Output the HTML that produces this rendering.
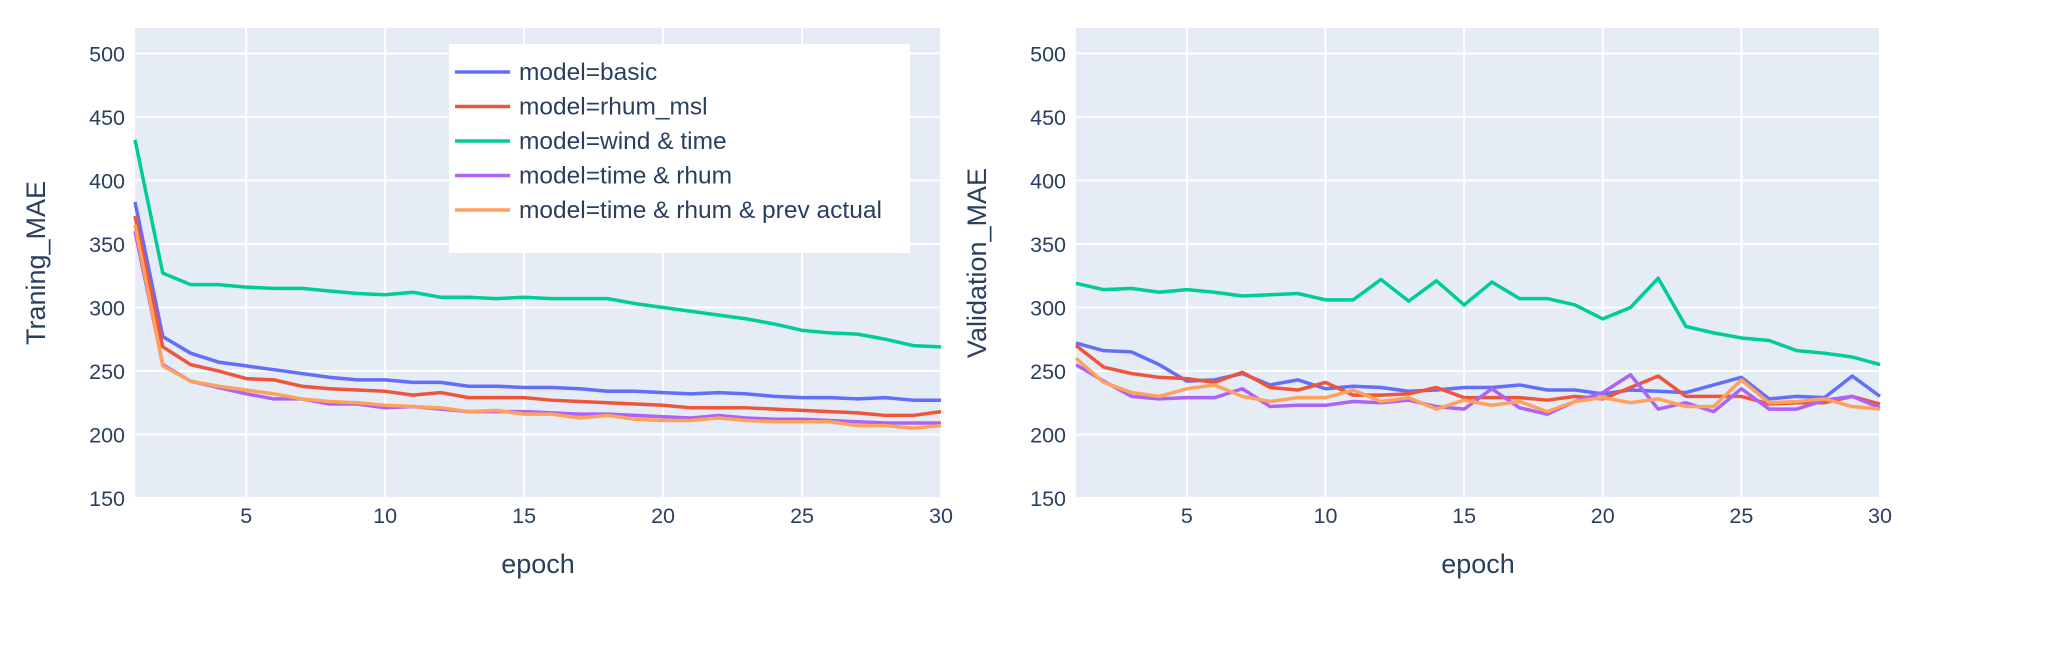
<!DOCTYPE html>
<html><head><meta charset="utf-8">
<style>
body{margin:0;background:#fff;width:2058px;height:654px;overflow:hidden}
svg text{font-family:"Liberation Sans",sans-serif;fill:#2a3f5f}
</style></head>
<body>
<svg id="chart" width="2058" height="654" viewBox="0 0 2058 654" xmlns="http://www.w3.org/2000/svg"></svg>
<script>
const epochs = Array.from({length:30},(_,i)=>i+1);
const seriesNames = ["model=basic","model=rhum_msl","model=wind & time","model=time & rhum","model=time & rhum & prev actual"];
const seriesKeys = ["basic","rhum-msl","wind-time","time-rhum","time-rhum-prev"];
const colors = ["#636efa","#EF553B","#00cc96","#ab63fa","#FFA15A"];
const yTicks = [150,200,250,300,350,400,450,500];
const xTicks = [5,10,15,20,25,30];
const trainBasic = [383,277,264,257,254,251,248,245,243,243,241,241,238,238,237,237,236,234,234,233,232,233,232,230,229,229,228,229,227,227];
const trainRhum = [372,269,255,250,244,243,238,236,235,234,231,233,229,229,229,227,226,225,224,223,221,221,221,220,219,218,217,215,215,218];
const trainWind = [432,327,318,318,316,315,315,313,311,310,312,308,308,307,308,307,307,307,303,300,297,294,291,287,282,280,279,275,270,269];
const trainTimeRhum = [360,255,242,237,232,228,228,224,224,221,222,220,218,218,218,217,216,216,215,214,213,215,213,212,212,211,210,209,209,209];
const trainPrev = [365,254,242,238,235,232,228,226,225,223,222,221,218,219,216,216,213,215,212,211,211,213,211,210,210,210,207,207,205,207];
const valBasic = [272,266,265,255,242,243,248,239,243,236,238,237,234,235,237,237,239,235,235,232,235,234,233,239,245,228,230,229,246,230];
const valRhum = [270,253,248,245,244,241,249,237,235,241,231,231,232,237,229,229,229,227,230,228,237,246,230,230,230,224,225,225,230,224];
const valWind = [319,314,315,312,314,312,309,310,311,306,306,322,305,321,302,320,307,307,302,291,300,323,285,280,276,274,266,264,261,255];
const valTimeRhum = [255,242,230,228,229,229,236,222,223,223,226,225,227,222,220,236,221,216,226,233,247,220,225,218,236,220,220,227,230,221];
const valPrev = [260,241,233,230,236,239,230,226,229,229,235,226,229,220,227,223,226,218,226,229,225,228,222,222,243,225,226,228,222,220];

const NS="http://www.w3.org/2000/svg";
const svg=document.getElementById('chart');
function el(tag,attrs,parent){const e=document.createElementNS(NS,tag);for(const k in attrs)e.setAttribute(k,attrs[k]);(parent||svg).appendChild(e);return e;}

function drawPanel(key,x0,x1,title,data){
  const yTop=28,yBot=498,yMin=150,yMax=520;
  const xs=v=>x0+(v-1)/(29)*(x1-x0);
  const ys=v=>yBot-(v-yMin)/(yMax-yMin)*(yBot-yTop);
  const g=el('g',{});
  
  
  const bg=el('rect',{x:x0,y:yTop,width:x1-x0,height:yBot-yTop,fill:'#E5ECF6'},g);
  
  
  xTicks.forEach(t=>{
    const l=el('line',{x1:xs(t),x2:xs(t),y1:yTop,y2:yBot,stroke:'#fff','stroke-width':2},g);
    
    
    const tx=el('text',{x:xs(t),y:523,'font-size':21.5,'text-anchor':'middle'},g);
    tx.textContent=t;
    
    
  });
  yTicks.forEach(t=>{
    const l=el('line',{x1:x0,x2:x1,y1:ys(t),y2:ys(t),stroke:'#fff','stroke-width':2},g);
    
    
    const tx=el('text',{x:x0-10,y:ys(t)+8,'font-size':21.5,'text-anchor':'end'},g);
    tx.textContent=t;
    
    
  });
  data.forEach((arr,i)=>{
    const p=el('polyline',{points:arr.map((v,j)=>xs(epochs[j])+','+ys(v)).join(' '),fill:'none',stroke:colors[i],'stroke-width':3.5,'stroke-linejoin':'round'},g);
    
    
  });
  const xt=el('text',{x:(x0+x1)/2,y:573,'font-size':27,'text-anchor':'middle'},g);
  xt.textContent='epoch';
  
  
  const tX=x0-90;
  const yt=el('text',{x:tX,y:263,'font-size':27,'text-anchor':'middle',transform:'rotate(-90 '+tX+' 263)'},g);
  yt.textContent=title;
  
  
}
drawPanel('training',135,941,'Traning_MAE',[trainBasic,trainRhum,trainWind,trainTimeRhum,trainPrev]);
drawPanel('validation',1076,1880,'Validation_MAE',[valBasic,valRhum,valWind,valTimeRhum,valPrev]);

const lg=el('g',{});


el('rect',{x:449,y:44,width:461,height:209,fill:'#fff'},lg);
seriesNames.forEach((n,i)=>{
  const y=72+i*34.5;
  const it=el('g',{},lg);
  
  
  el('line',{x1:455,x2:510,y1:y,y2:y,stroke:colors[i],'stroke-width':3.5},it);
  const t=el('text',{x:519,y:y+8,'font-size':24.5},it);
  t.textContent=n;
});
</script>
</body></html>
